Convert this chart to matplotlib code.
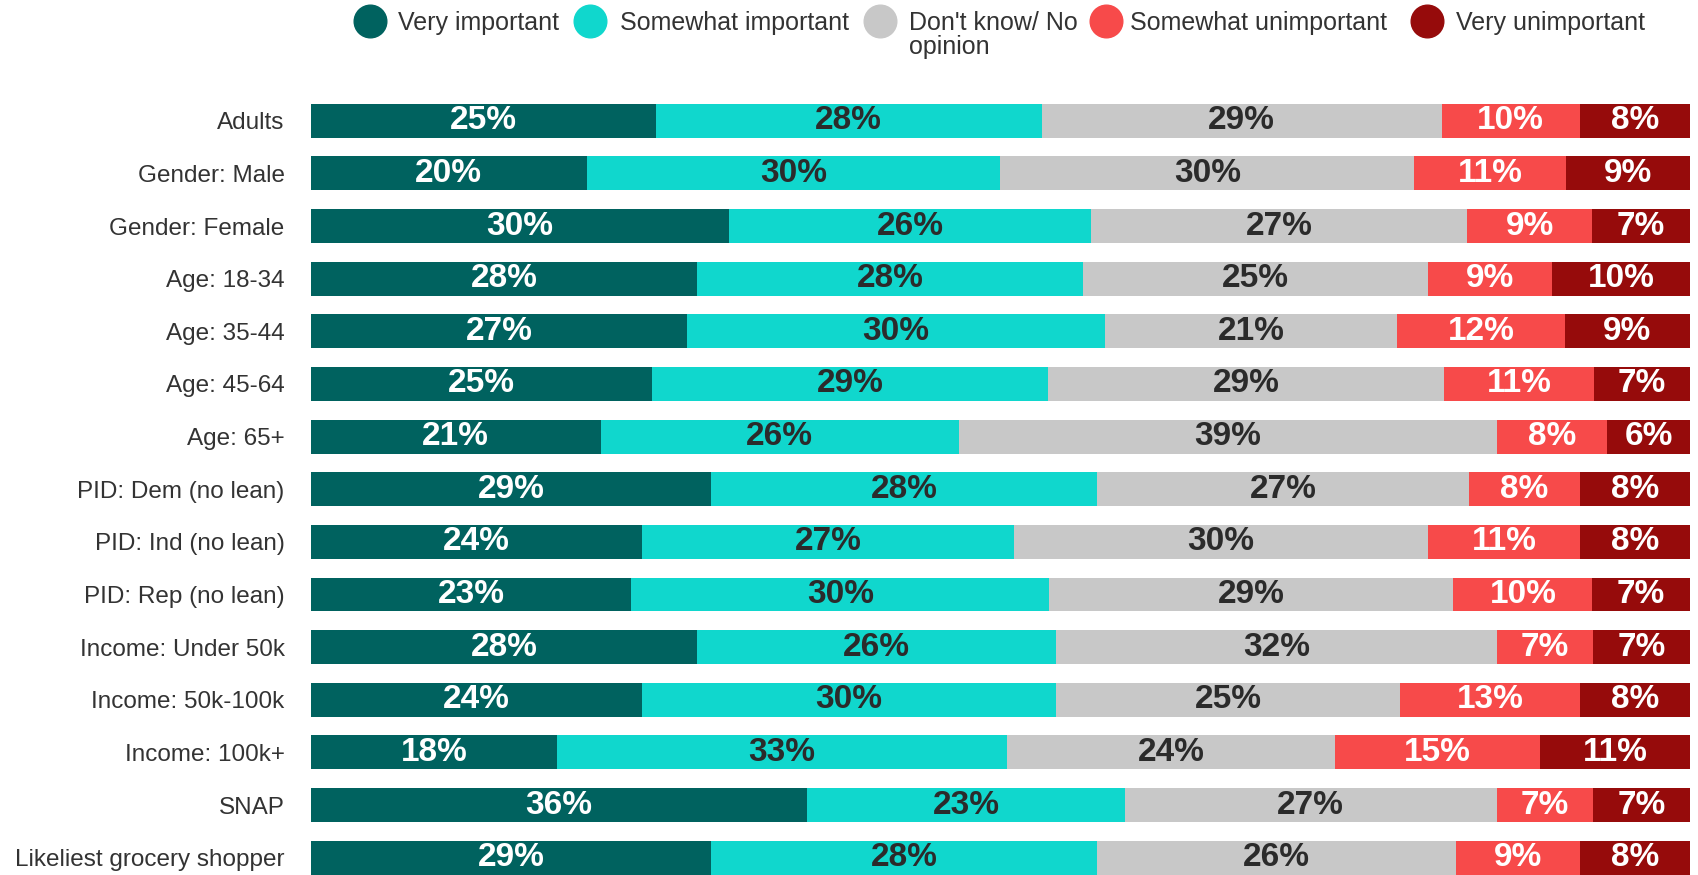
import numpy as np
import matplotlib
matplotlib.use("Agg")
import matplotlib.pyplot as plt
from matplotlib.lines import Line2D

plt.rcParams['font.family'] = ['Liberation Sans', 'DejaVu Sans']

# Grupos (de cima para baixo)
groups = ["Adults", "Gender: Male", "Gender: Female", "Age: 18-34", "Age: 35-44",
          "Age: 45-64", "Age: 65+", "PID: Dem (no lean)", "PID: Ind (no lean)",
          "PID: Rep (no lean)", "Income: Under 50k", "Income: 50k-100k",
          "Income: 100k+", "SNAP", "Likeliest grocery shopper"]

series = ["Very important", "Somewhat important", "Don't know/ No\nopinion",
          "Somewhat unimportant", "Very unimportant"]

very_imp = [25, 20, 30, 28, 27, 25, 21, 29, 24, 23, 28, 24, 18, 36, 29]
some_imp = [28, 30, 26, 28, 30, 29, 26, 28, 27, 30, 26, 30, 33, 23, 28]
dont_know = [29, 30, 27, 25, 21, 29, 39, 27, 30, 29, 32, 25, 24, 27, 26]
some_unimp = [10, 11, 9, 9, 12, 11, 8, 8, 11, 10, 7, 13, 15, 7, 9]
very_unimp = [8, 9, 7, 10, 9, 7, 6, 8, 8, 7, 7, 8, 11, 7, 8]

colors = ["#00625f", "#10d7cd", "#c8c8c8", "#f74a4a", "#960b0b"]
text_colors = ["white", "#2b2b2b", "#2b2b2b", "white", "white"]

data = np.array([very_imp, some_imp, dont_know, some_unimp, very_unimp], dtype=float)
# normaliza cada linha para 100%
shares = data / data.sum(axis=0) * 100

W, H = 1699, 875
fig = plt.figure(figsize=(W / 100, H / 100), dpi=100)
ax = fig.add_axes([0.183, 0.0, 0.8117, 0.892])

y = np.arange(len(groups))
left = np.zeros(len(groups))
for i in range(len(series)):
    ax.barh(y, shares[i], left=left, height=0.645, color=colors[i], linewidth=0)
    for j in range(len(groups)):
        ax.text(left[j] + shares[i][j] / 2, y[j], f"{int(data[i][j])}%",
                ha="center", va="center", fontsize=24, fontweight="bold",
                color=text_colors[i])
    left += shares[i]

ax.set_xlim(0, 100)
ax.set_ylim(14.33, -0.5)
ax.set_yticks(y)
ax.set_yticklabels(groups, fontsize=17.5, color="#333333")
ax.tick_params(axis="y", length=0, pad=19)
ax.set_xticks([])
for s in ax.spines.values():
    s.set_visible(False)

# Legenda manual (posições em pixels da figura)
circle_x = [370, 590, 880, 1106, 1427]
text_x = [398, 620, 909, 1130, 1456]
for c, cx, tx, lab in zip(colors, circle_x, text_x, series):
    fig.add_artist(Line2D([cx / W], [1 - 21 / H], marker="o", linestyle="",
                          markersize=23.5, markerfacecolor=c, markeredgecolor=c,
                          transform=fig.transFigure))
    fig.text(tx / W, 1 - 11 / H, lab, ha="left", va="top", fontsize=18,
             color="#333333", linespacing=1.0)

fig.savefig("out.png", dpi=100)
